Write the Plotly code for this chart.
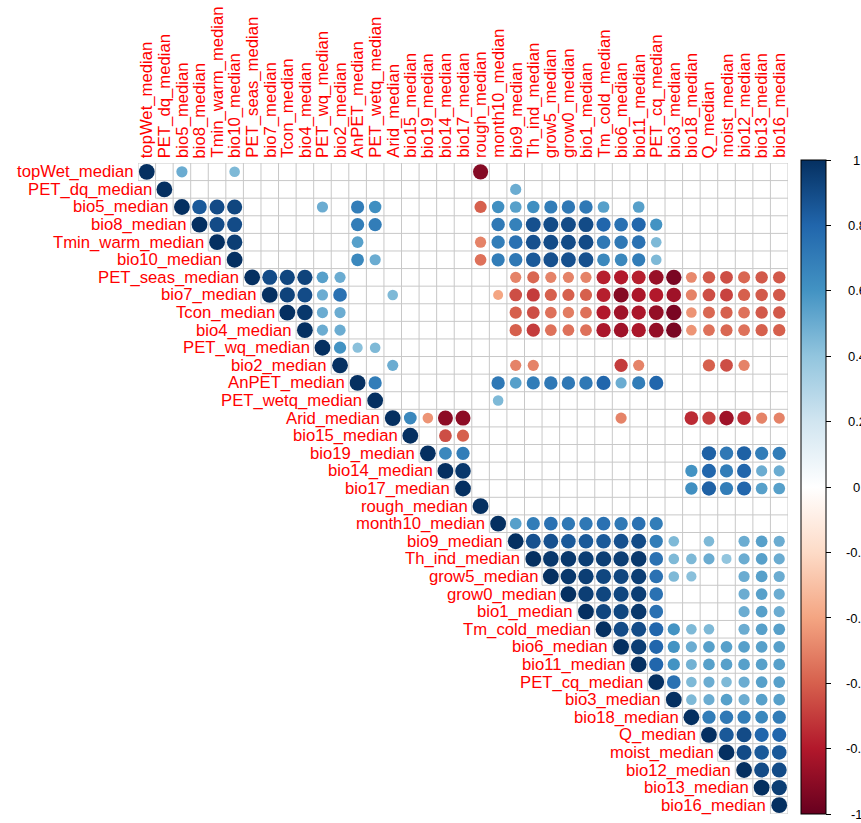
import math
import plotly.graph_objects as go

N = None

labels = ["topWet_median", "PET_dq_median", "bio5_median", "bio8_median", "Tmin_warm_median",
          "bio10_median", "PET_seas_median", "bio7_median", "Tcon_median", "bio4_median",
          "PET_wq_median", "bio2_median", "AnPET_median", "PET_wetq_median", "Arid_median",
          "bio15_median", "bio19_median", "bio14_median", "bio17_median", "rough_median",
          "month10_median", "bio9_median", "Th_ind_median", "grow5_median", "grow0_median",
          "bio1_median", "Tm_cold_median", "bio6_median", "bio11_median", "PET_cq_median",
          "bio3_median", "bio18_median", "Q_median", "moist_median", "bio12_median",
          "bio13_median", "bio16_median"]

# upper triangle of the correlation matrix, each row starts at its diagonal cell
# (None = blank / not significant)
corr_upper = [
    [1, N, .5, N, N, .45] + [N]*13 + [-.92] + [N]*17,
    [1] + [N]*19 + [.5] + [N]*15,
    [1, .85, .9, .92] + [N]*4 + [.5, N, .7, .62] + [N]*5 + [-.6, .62, .55, .62, .7, .72, .72, .55, N, .55] + [N]*8,
    [1, .9, .9] + [N]*6 + [.7, .7] + [N]*6 + [.72, .68, .88, .9, .9, .9, .8, .75, .8, .6] + [N]*7,
    [1, .95] + [N]*6 + [.55] + [N]*6 + [-.5, .7, .75, .88, .9, .9, .9, .72, .72, .75, .45] + [N]*7,
    [1] + [N]*6 + [.65, .5] + [N]*5 + [-.55, .7, .72, .85, .88, .88, .88, .65, .65, .7, .45] + [N]*7,
    [1, .9, .92, .93, .55, .5] + [N]*9 + [-.5, -.58, -.5, -.5, -.5, -.78, -.8, -.78, -.87, -.95, -.48, -.62, -.65, -.58, -.62, -.62],
    [1, .93, .9, .5, .75, N, N, .45] + [N]*5 + [-.4, -.65, -.7, -.6, -.6, -.6, -.78, -.92, -.82, -.8, -.85, -.5, -.65, -.68, -.6, -.62, -.62],
    [1, .97, .5, .5] + [N]*9 + [-.6, -.65, -.55, -.52, -.55, -.8, -.85, -.82, -.88, -.95, -.45, -.58, -.6, -.55, -.62, -.62],
    [1, .5, .5] + [N]*9 + [-.6, -.7, -.55, -.55, -.55, -.82, -.85, -.82, -.88, -.95, -.45, -.55, -.58, -.55, -.6, -.6],
    [1, .6, .42, .45] + [N]*23,
    [1, N, N, .5] + [N]*6 + [-.5, -.5] + [N]*4 + [-.7, -.5] + [N]*3 + [-.6, -.65, -.5, N, N],
    [1, .7] + [N]*6 + [.72, .55, .7, .72, .72, .72, .8, .5, .7, .8] + [N]*7,
    [1] + [N]*6 + [.45] + [N]*16,
    [1, .65, -.45, -.9, -.9] + [N]*8 + [-.5] + [N]*3 + [-.75, -.7, -.85, -.75, -.5, -.5],
    [1, N, -.65, -.6] + [N]*18,
    [1, .65, .7] + [N]*13 + [.82, .72, .82, .7, .7],
    [1, .97] + [N]*12 + [.6, .8, .7, .8, .5, .5],
    [1] + [N]*12 + [.62, .82, .7, .8, .55, .55],
    [1] + [N]*17,
    [1, .55, .7, .75, .72, .72, .75, .72, .75, .7] + [N]*7,
    [1, .88, .88, .85, .85, .85, .88, .9, .7, .45, N, .45, N, .5, .55, .5],
    [1, .97, .97, .95, .95, .95, .97, .75, .45, .45, .5, .4, .5, .55, .5],
    [1, .97, .95, .92, .92, .95, .75, .45, .42, N, N, .5, .55, .5],
    [1, .95, .92, .92, .95, .75, N, N, N, N, .5, .55, .5],
    [1, .92, .92, .97, .75, N, N, N, N, .5, .55, .5],
    [1, .9, .9, .8, .6, .45, .45, N, .5, .55, .55],
    [1, .95, .8, .6, .5, .55, .55, .55, .55, .55],
    [1, .8, .6, .48, .55, .55, .55, .55, .55],
    [1, .75, .45, .5, .45, .5, .55, .55],
    [1, .45, .5, .55, .5, .55, .55],
    [1, .7, .72, .7, .65, .7],
    [1, .85, .9, .8, .8],
    [1, .9, .85, .85],
    [1, .9, .9],
    [1, .95],
    [1],
]

tick_vals = [1, 0.8, 0.6, 0.4, 0.2, 0, -0.2, -0.4, -0.6, -0.8, -1]
tick_text = ["1", "0.8", "0.6", "0.4", "0.2", "0", "-0.2", "-0.4", "-0.6", "-0.8", "-1"]

rdbu = ["#67001F", "#B2182B", "#D6604D", "#F4A582", "#FDDBC7", "#FFFFFF",
        "#D1E5F0", "#92C5DE", "#4393C3", "#2166AC", "#053061"]
colorscale = [[k / (len(rdbu) - 1), c] for k, c in enumerate(rdbu)]

W, H = 861, 823
ML, MT = 138, 163
PW, PH = 650, 651
MR, MB = W - ML - PW, H - MT - PH
n = len(labels)
cell = PW / n

xs, ys, vals, sizes = [], [], [], []
for i, row in enumerate(corr_upper):
    for k, v in enumerate(row):
        if v is None:
            continue
        xs.append(i + k)
        ys.append(i)
        vals.append(v)
        sizes.append(0.9 * cell * math.sqrt(abs(v)))

# grid lines (upper triangle staircase)
gx, gy = [], []
for k in range(n + 1):
    gx += [max(k - 1, 0) - 0.5, n - 0.5, None]
    gy += [k - 0.5, k - 0.5, None]
for k in range(n + 1):
    gx += [k - 0.5, k - 0.5, None]
    gy += [-0.5, min(k, n - 1) + 0.5, None]

fig = go.Figure()
fig.add_trace(go.Scatter(x=gx, y=gy, mode="lines",
                         line=dict(color="#C8C8C8", width=1),
                         hoverinfo="skip", showlegend=False))
fig.add_trace(go.Scatter(
    x=xs, y=ys, mode="markers", showlegend=False,
    marker=dict(size=sizes, color=vals, colorscale=colorscale, cmin=-1, cmax=1,
                line=dict(width=0), opacity=1,
                showscale=True,
                colorbar=dict(x=(801 - ML) / PW, xanchor="left", xpad=0,
                              y=0.5 + 0.002, yanchor="middle", ypad=0,
                              len=1.005, lenmode="fraction", thickness=25,
                              outlinecolor="black", outlinewidth=1,
                              tickvals=tick_vals, ticks="outside", ticklen=5,
                              tickcolor="black", showticklabels=False)),
    text=[f"{labels[y]} / {labels[x]}: {v}" for x, y, v in zip(xs, ys, vals)],
    hoverinfo="text"))

font = "Liberation Sans, Arial, sans-serif"
ann = []
for i, lab in enumerate(labels):
    ann.append(dict(x=i - 0.5, y=i, xref="x", yref="y", text=lab, showarrow=False,
                    xanchor="right", yanchor="middle", xshift=-2,
                    font=dict(family=font, size=16.7, color="red")))
    ann.append(dict(x=i, y=-0.5, xref="x", yref="y", text=lab, showarrow=False,
                    textangle=-90, xanchor="center", yanchor="bottom", yshift=3,
                    font=dict(family=font, size=16.7, color="red")))
for v, t in zip(tick_vals, tick_text):
    ann.append(dict(x=(857 - ML) / PW, y=0.5 + 0.002 + v * 0.5 * 1.005,
                    xref="paper", yref="paper", text=t, showarrow=False,
                    xanchor="center", yanchor="middle",
                    font=dict(family=font, size=13, color="black")))

fig.update_layout(
    width=W, height=H, margin=dict(l=ML, r=MR, t=MT, b=MB),
    paper_bgcolor="white", plot_bgcolor="white",
    xaxis=dict(range=[-0.5, n - 0.5], visible=False, fixedrange=True),
    yaxis=dict(range=[n - 0.5, -0.5], visible=False, fixedrange=True),
    annotations=ann,
)
fig.write_html("out.html",
               config={"displayModeBar": False},
               post_script="document.body.style.margin='0px';"
                           "document.documentElement.style.overflow='hidden';")
